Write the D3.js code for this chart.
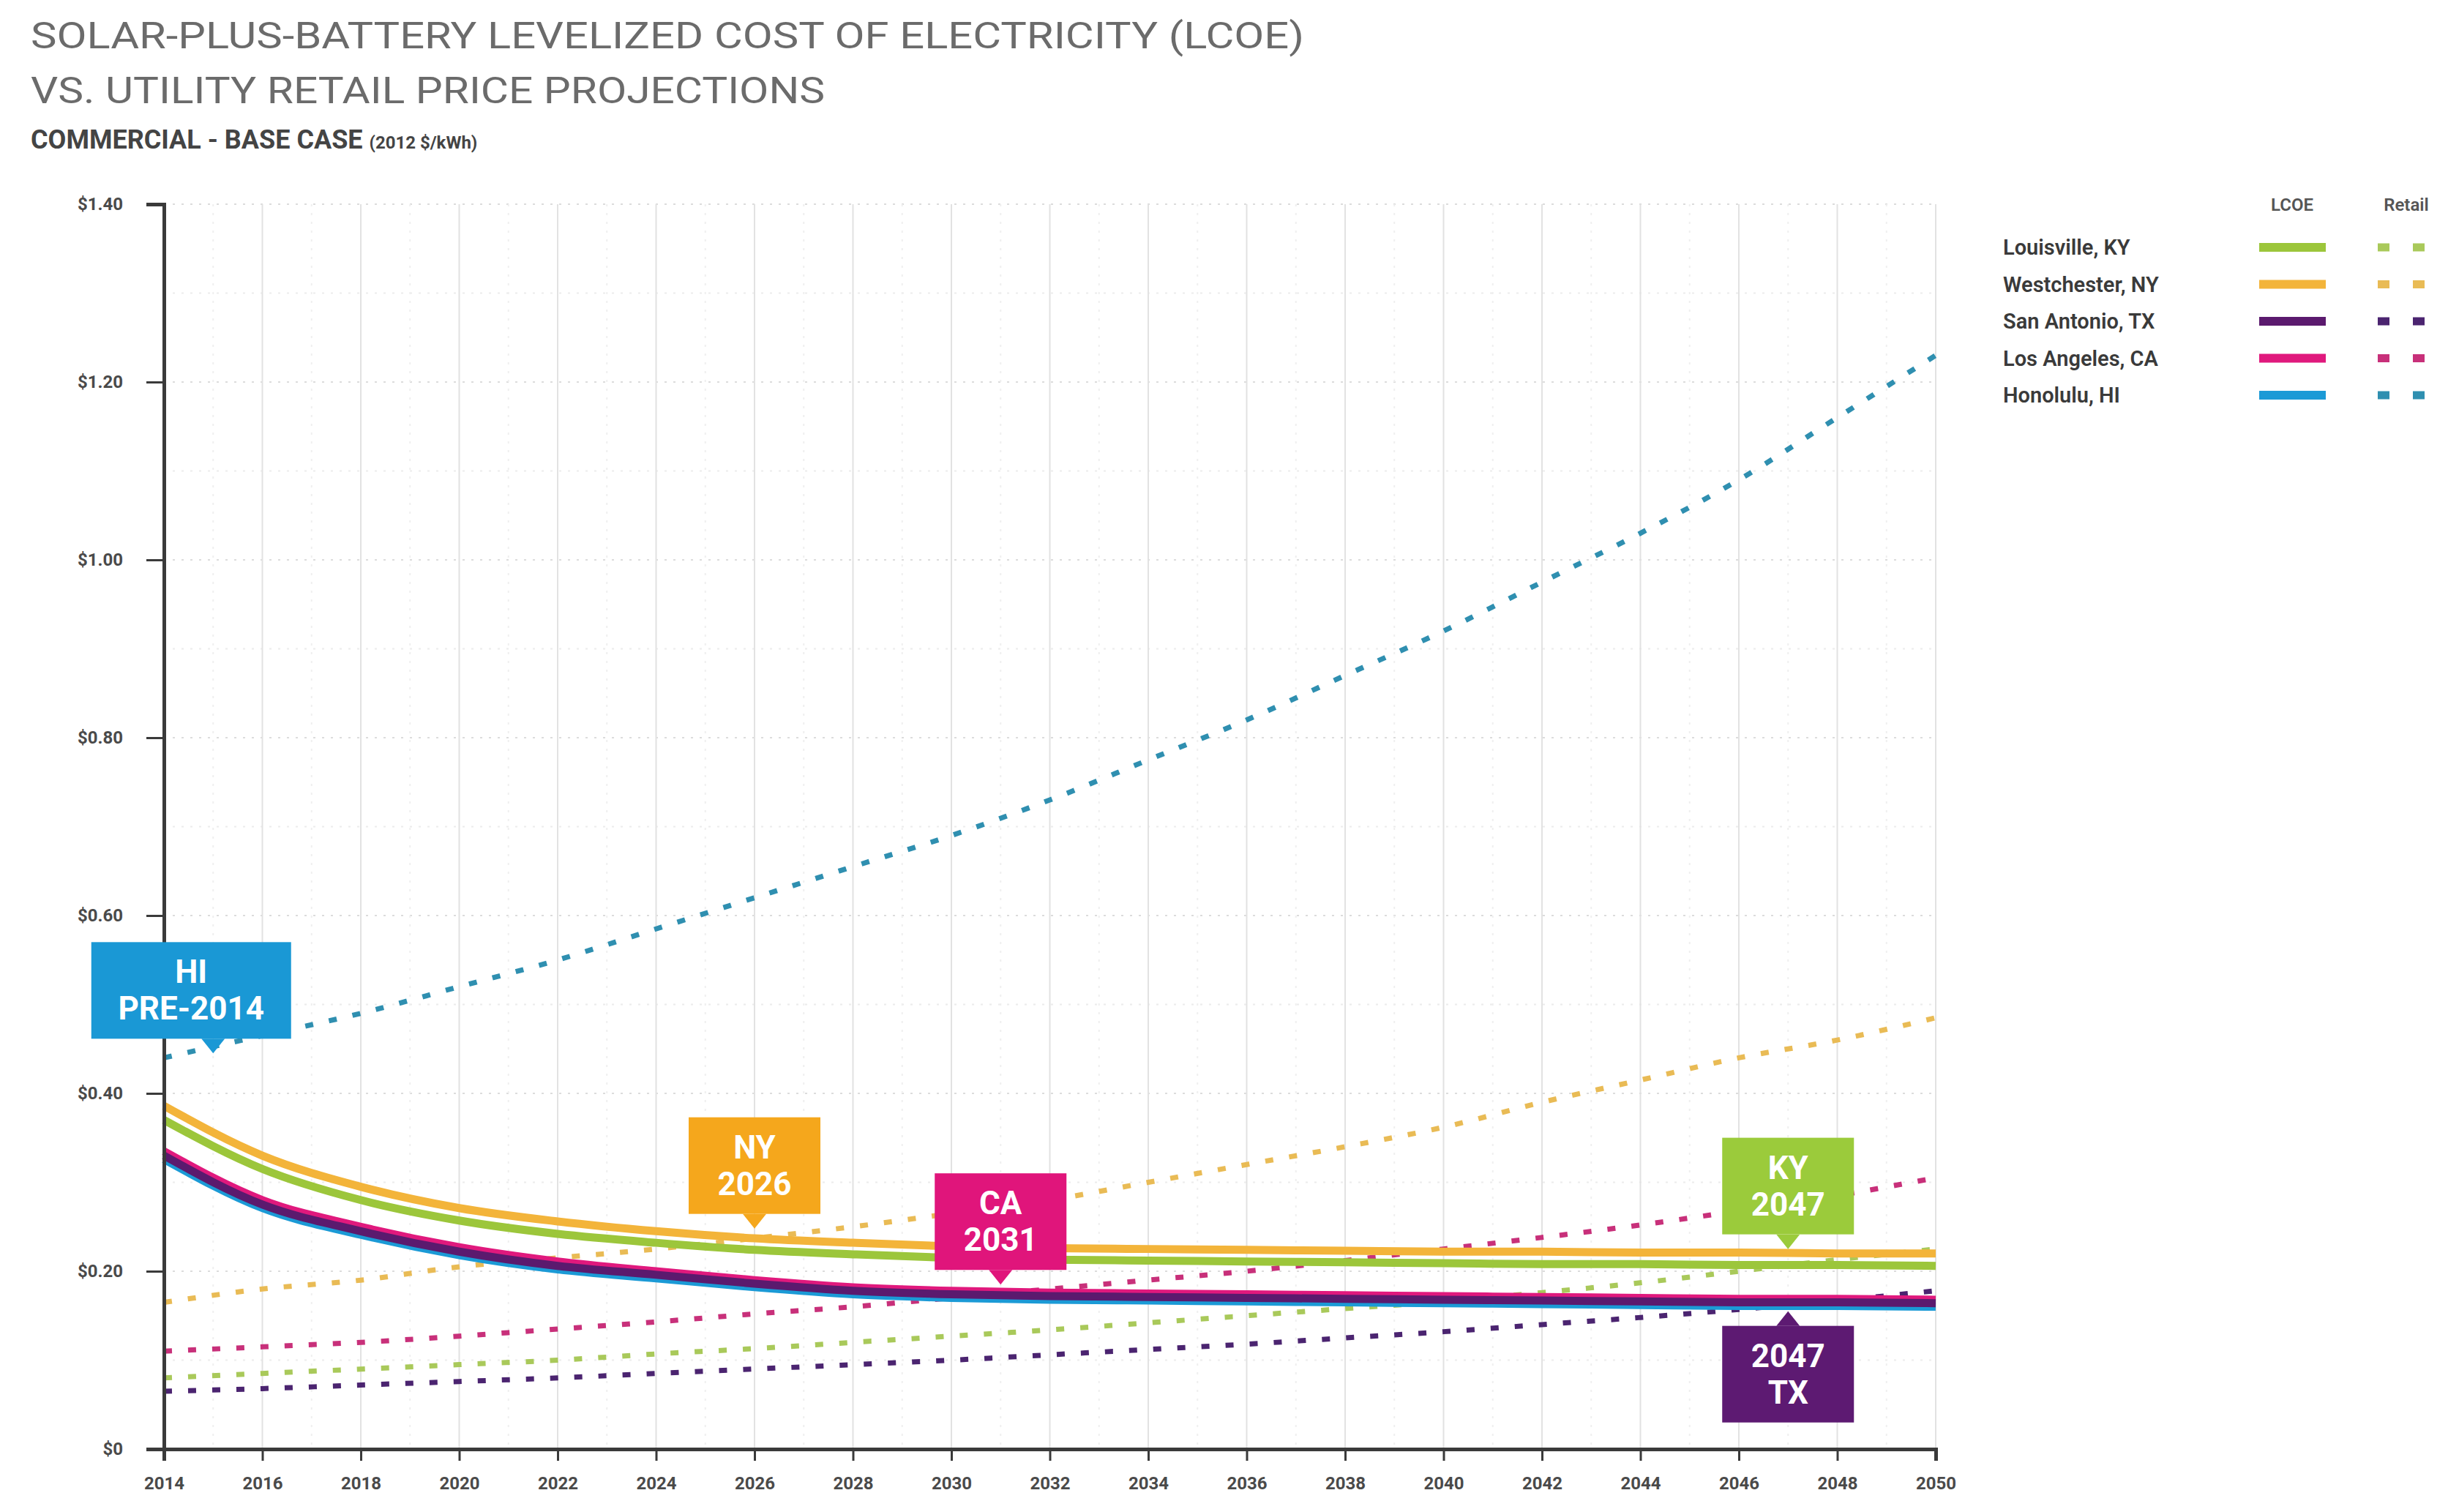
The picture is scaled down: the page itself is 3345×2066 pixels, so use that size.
<!DOCTYPE html>
<html>
<head>
<meta charset="utf-8">
<script src="https://cdn.jsdelivr.net/npm/d3@7/dist/d3.min.js"></script>
<style>
    body { margin: 0; background: #fff; }
    svg text { font-family: Roboto, 'Open Sans', 'DejaVu Sans', sans-serif; }
</style>
</head>
<body>
<div id="chart"></div>
<script>
// values, $/kWh
const years = [2014, 2016, 2018, 2020, 2022, 2024, 2026, 2028, 2030, 2032, 2034, 2036, 2038, 2040, 2042, 2044, 2046, 2048, 2050]
const cities = ['Louisville, KY', 'Westchester, NY', 'San Antonio, TX', 'Los Angeles, CA', 'Honolulu, HI']

const lcoeKY = [0.370, 0.315, 0.280, 0.257, 0.242, 0.232, 0.224, 0.219, 0.215, 0.213, 0.212, 0.211, 0.210, 0.209, 0.208, 0.208, 0.207, 0.207, 0.206]
const lcoeNY = [0.386, 0.330, 0.295, 0.271, 0.256, 0.245, 0.237, 0.232, 0.228, 0.226, 0.225, 0.224, 0.223, 0.222, 0.222, 0.221, 0.221, 0.220, 0.220]
const lcoeTX = [0.330, 0.275, 0.245, 0.222, 0.206, 0.196, 0.186, 0.178, 0.174, 0.172, 0.171, 0.170, 0.169, 0.168, 0.167, 0.166, 0.165, 0.165, 0.164]
const lcoeCA = [0.335, 0.280, 0.250, 0.227, 0.211, 0.200, 0.190, 0.182, 0.178, 0.176, 0.175, 0.174, 0.173, 0.172, 0.171, 0.170, 0.169, 0.169, 0.168]
const lcoeHI = [0.326, 0.271, 0.241, 0.218, 0.202, 0.192, 0.182, 0.174, 0.170, 0.168, 0.167, 0.166, 0.165, 0.164, 0.163, 0.162, 0.161, 0.161, 0.160]

const retailKY = [0.080, 0.085, 0.090, 0.095, 0.100, 0.107, 0.113, 0.120, 0.127, 0.134, 0.142, 0.150, 0.158, 0.166, 0.176, 0.187, 0.200, 0.213, 0.225]
const retailNY = [0.165, 0.180, 0.190, 0.205, 0.215, 0.225, 0.237, 0.250, 0.265, 0.280, 0.300, 0.320, 0.340, 0.362, 0.390, 0.415, 0.440, 0.460, 0.485]
const retailTX = [0.065, 0.068, 0.072, 0.076, 0.080, 0.085, 0.090, 0.095, 0.100, 0.106, 0.112, 0.118, 0.125, 0.132, 0.140, 0.148, 0.157, 0.167, 0.178]
const retailCA = [0.110, 0.115, 0.120, 0.127, 0.135, 0.143, 0.152, 0.160, 0.170, 0.180, 0.190, 0.200, 0.212, 0.225, 0.238, 0.252, 0.268, 0.285, 0.305]
const retailHI = [0.440, 0.465, 0.490, 0.520, 0.550, 0.585, 0.620, 0.655, 0.690, 0.730, 0.775, 0.820, 0.870, 0.920, 0.975, 1.030, 1.090, 1.160, 1.230]

const yTicks = [0, 0.2, 0.4, 0.6, 0.8, 1.0, 1.2, 1.4]
const yTickLabels = ['$0', '$0.20', '$0.40', '$0.60', '$0.80', '$1.00', '$1.20', '$1.40']

// grid-parity call-outs
const calloutText = [['HI', 'PRE-2014'], ['NY', '2026'], ['CA', '2031'], ['KY', '2047'], ['2047', 'TX']]
const calloutYear = [2015, 2026, 2031, 2047, 2047]
const calloutValue = [0.445, 0.248, 0.185, 0.225, 0.155]

const cityColors = ['#9cc63b', '#f3b43a', '#5b1a6e', '#e0197d', '#1b9ad6']
const retailColors = ['#a9c95a', '#e9bb55', '#4b2470', '#c8307a', '#2f8fb0']
const calloutColors = ['#1a98d5', '#f5a71c', '#e0157b', '#9bcb3b', '#5d1a72']

class LcoeChart {
    constructor(options) {
        this.container = options.container
        this.d3container = d3.select(this.container)
        this.w = options.width
        this.h = options.height
    }

    calcDimensions() {
        this.left = 224
        this.right = 2645
        this.top = 279
        this.bottom = 1980
        this.x = d3.scaleLinear().domain([2014, 2050]).range([this.left, this.right])
        this.y = d3.scaleLinear().domain([0, 1.4]).range([this.bottom, this.top])
    }

    appendTitles() {
        let t = this.svg.append('g').attr('fill', '#6b6b6b')
        t.append('text').attr('x', 42).attr('y', 66)
            .attr('font-size', 50).attr('textLength', 1740).attr('lengthAdjust', 'spacingAndGlyphs')
            .text('SOLAR-PLUS-BATTERY LEVELIZED COST OF ELECTRICITY (LCOE)')
        t.append('text').attr('x', 42).attr('y', 141)
            .attr('font-size', 50).attr('textLength', 1085).attr('lengthAdjust', 'spacingAndGlyphs')
            .text('VS. UTILITY RETAIL PRICE PROJECTIONS')
        let sub = t.append('text').attr('x', 42).attr('y', 203).attr('fill', '#444').attr('font-weight', 700)
        sub.append('tspan').attr('font-size', 36).text('COMMERCIAL - BASE CASE ')
        sub.append('tspan').attr('font-size', 24).text('(2012 $/kWh)')
    }

    appendGrid() {
        let {x, y} = this
        let g = this.svg.append('g')
        let halfTicks = d3.range(0.1, 1.41, 0.1)
        g.selectAll('.hgrid').data(halfTicks).enter().append('line')
            .attr('x1', this.left).attr('x2', this.right)
            .attr('y1', d => y(d)).attr('y2', d => y(d))
            .attr('stroke', (d, i) => i % 2 ? '#dcdcdc' : '#ececec')
            .attr('stroke-width', 2).attr('stroke-dasharray', '3,9')
        let allYears = d3.range(2015, 2051, 1)
        g.selectAll('.vgrid').data(allYears).enter().append('line')
            .attr('x1', d => x(d)).attr('x2', d => x(d))
            .attr('y1', this.top).attr('y2', this.bottom)
            .attr('stroke', d => d % 2 ? '#efefef' : '#e2e2e2')
            .attr('stroke-width', 2).attr('stroke-dasharray', d => d % 2 ? '3,9' : null)
    }

    appendAxes() {
        let {x, y} = this
        let yAxis = d3.axisLeft(y).tickValues(yTicks).tickFormat((d, i) => yTickLabels[i]).tickSize(24).tickPadding(32)
        let xAxis = d3.axisBottom(x).tickValues(years).tickFormat(d3.format('d')).tickSize(16).tickPadding(22)

        let ga = this.svg.append('g').attr('transform', `translate(${this.left},0)`).call(yAxis)
        let gb = this.svg.append('g').attr('transform', `translate(0,${this.bottom})`).call(xAxis)
        ;[ga, gb].forEach(g => {
            g.select('.domain').attr('stroke', '#3a3a3a').attr('stroke-width', 5)
            g.selectAll('.tick line').attr('stroke', '#3a3a3a').attr('stroke-width', 3)
            g.selectAll('.tick text').attr('fill', '#4a4a4a').attr('font-size', 24).attr('font-weight', 700)
                .style('font-family', 'Roboto, sans-serif')
        })
    }

    appendLines() {
        let {x, y} = this
        let line = d3.line().x((d, i) => x(years[i])).y(d => y(d)).curve(d3.curveMonotoneX)
        let retail = [retailHI, retailKY, retailTX, retailCA, retailNY]
        let retailIdx = [4, 0, 2, 3, 1]
        this.svg.append('g').selectAll('path').data(retail).enter().append('path')
            .attr('d', line).attr('fill', 'none')
            .attr('stroke', (d, i) => retailColors[retailIdx[i]])
            .attr('stroke-width', 7).attr('stroke-dasharray', '11,22')

        let lcoe = [lcoeHI, lcoeCA, lcoeTX, lcoeKY, lcoeNY]
        let lcoeIdx = [4, 3, 2, 0, 1]
        this.svg.append('g').selectAll('path').data(lcoe).enter().append('path')
            .attr('d', line).attr('fill', 'none')
            .attr('stroke', (d, i) => cityColors[lcoeIdx[i]])
            .attr('stroke-width', 11).attr('stroke-linejoin', 'round')
    }

    appendCallouts() {
        let {x, y} = this
        let g = this.svg.append('g')
        calloutText.forEach((lines, i) => {
            let px = x(calloutYear[i]), py = y(calloutValue[i])
            let up = i === 4
            let bw = i === 0 ? 273 : 180, bh = 132, tri = 20
            let cx = i === 0 ? px - 30 : px
            let top = up ? py + tri : py - tri - bh
            let c = g.append('g')
            c.append('rect').attr('x', cx - bw / 2).attr('y', top).attr('width', bw).attr('height', bh)
                .attr('fill', calloutColors[i])
            let tipY = up ? top : top + bh
            c.append('path')
                .attr('d', `M${px - 16},${tipY} L${px},${py} L${px + 16},${tipY} Z`)
                .attr('fill', calloutColors[i])
            c.selectAll('text').data(lines).enter().append('text')
                .attr('x', cx).attr('y', (d, j) => top + 56 + j * 50)
                .attr('text-anchor', 'middle').attr('fill', '#fff')
                .attr('font-size', 44).attr('font-weight', 700)
                .text(d => d)
        })
    }

    appendLegend() {
        let g = this.svg.append('g')
        g.append('text').attr('x', 3132).attr('y', 288).attr('text-anchor', 'middle')
            .attr('font-size', 24).attr('font-weight', 600).attr('fill', '#555').text('LCOE')
        g.append('text').attr('x', 3288).attr('y', 288).attr('text-anchor', 'middle')
            .attr('font-size', 24).attr('font-weight', 600).attr('fill', '#555').text('Retail')
        let rows = g.selectAll('.row').data(cities).enter().append('g')
            .attr('transform', (d, i) => `translate(0,${338 + i * 50.5})`)
        rows.append('text').attr('x', 2737).attr('y', 10)
            .attr('font-size', 29).attr('font-weight', 600).attr('fill', '#3a3a3a')
            .text(d => d)
        rows.append('line').attr('x1', 3087).attr('x2', 3178)
            .attr('stroke', (d, i) => cityColors[i]).attr('stroke-width', 12)
        rows.append('line').attr('x1', 3249).attr('x2', 3330)
            .attr('stroke', (d, i) => retailColors[i]).attr('stroke-width', 11)
            .attr('stroke-dasharray', '16,32')
    }

    render() {
        this.calcDimensions()
        this.svg = this.d3container.append('svg')
            .attr('width', this.w)
            .attr('height', this.h)
        this.appendTitles()
        this.appendGrid()
        this.appendLines()
        this.appendAxes()
        this.appendCallouts()
        this.appendLegend()
        return this
    }
}

new LcoeChart({container: '#chart', width: 3345, height: 2066}).render()
</script>
</body>
</html>
